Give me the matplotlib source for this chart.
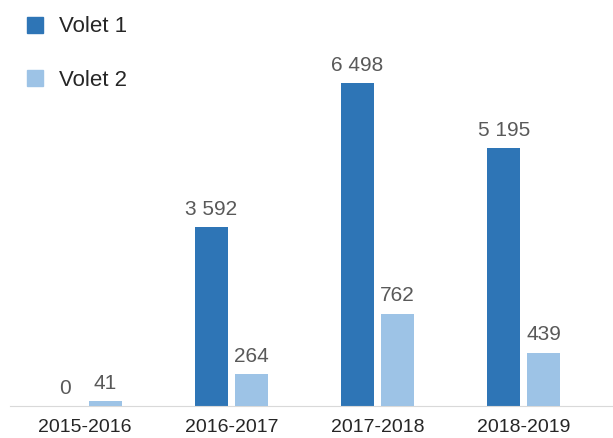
import numpy as np
import matplotlib.pyplot as plt
from matplotlib.lines import Line2D

plt.rcParams['font.family'] = ['Liberation Sans', 'DejaVu Sans']

categories = ['2015-2016', '2016-2017', '2017-2018', '2018-2019']
volet1 = [0, 3592, 6498, 5195]
volet2 = [41, 264, 762, 439]

c1 = '#2E75B6'
c2 = '#9DC3E6'

fig = plt.figure(figsize=(6.13, 4.38), dpi=100)
ax = fig.add_axes([10 / 613, 32 / 438, 603 / 613, 406 / 438])
# Volet 2 sits on its own (hidden) scale, like the original
ax2 = ax.twinx()

x = np.arange(len(categories))
off = 0.137
w = 0.226
b1 = ax.bar(x - off, volet1, w, color=c1)
b2 = ax2.bar(x + off, volet2, w, color=c2)


def fmt(v):
    return '{:,}'.format(v).replace(',', ' ')


for a, bars, vals in ((ax, b1, volet1), (ax2, b2, volet2)):
    for rect, v in zip(bars, vals):
        a.annotate(fmt(v), (rect.get_x() + rect.get_width() / 2, rect.get_height()),
                   xytext=(0, 6), textcoords='offset points', ha='center', va='bottom',
                   fontsize=15, color='#595959')

ax.set_xlim(-0.513, 3.609)
ax.set_ylim(0, 8170)
ax2.set_ylim(0, 3345)
ax.set_xticks(x)
ax.set_xticklabels(categories, fontsize=14, color='#262626')
ax.tick_params(axis='x', length=0, pad=9)
ax.set_yticks([])
ax2.set_yticks([])
for a in (ax, ax2):
    for s in ['top', 'right', 'left']:
        a.spines[s].set_visible(False)
ax2.spines['bottom'].set_visible(False)
ax.spines['bottom'].set_color('#d9d9d9')

handles = [Line2D([], [], linestyle='none', marker='s', markersize=11, color=c1),
           Line2D([], [], linestyle='none', marker='s', markersize=11, color=c2)]
fig.legend(handles, ['Volet 1', 'Volet 2'], loc='upper left', bbox_to_anchor=(0.006, 1.008),
           frameon=False, fontsize=16, labelspacing=1.45, handlelength=1.0,
           handletextpad=0.6, labelcolor='#262626')

fig.savefig('out.png', dpi=100)
